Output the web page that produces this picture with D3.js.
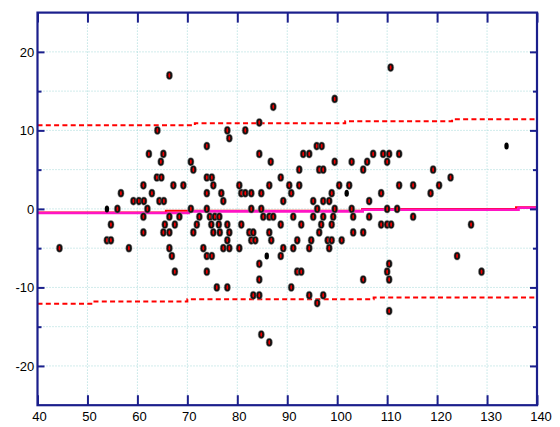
<!DOCTYPE html>
<html>
<head>
<meta charset="utf-8">
<script src="https://cdn.jsdelivr.net/npm/d3@7"></script>
<style>
  html, body { margin: 0; padding: 0; background: #fff; }
  svg { display: block; }
</style>
</head>
<body>
<svg id="chart" width="560" height="427"></svg>
<script>
// Axis ticks
const xTickValues = [40, 50, 60, 70, 80, 90, 100, 110, 120, 130, 140];
const yTickValues = [-20, -10, 0, 10, 20];
const yMinorTickValues = [-15, -5, 5, 15];
const xGridValues = [50, 60, 70, 80, 90, 100, 110, 120, 130];
const yGridValues = [-20, -15, -10, -5, 0, 5, 10, 15, 20];

// Observations: mean of the two measurements (x) and their difference (y)
const meanValues = [
  110.7, 66.4, 99.5, 87.2, 84.4,
  64.0, 78.0, 81.6, 78.4,
  73.9, 95.9, 96.9,
  62.3, 65.2, 84.4, 93.2, 94.4, 107.2, 109.2, 110.4, 112.4,
  64.7, 70.7, 86.7, 99.5, 102.9, 106.0, 110.0,
  71.2, 92.4, 96.4, 97.2, 105.2, 119.2,
  63.9, 64.8, 73.9, 74.9, 88.7, 122.7,
  61.2, 67.2, 69.2, 75.2, 80.4, 86.4, 90.4, 92.4, 100.4, 102.4, 112.4, 115.2, 120.4,
  56.7, 62.9, 73.9, 76.8, 80.8, 81.6, 82.8, 84.8, 90.8, 98.9, 108.8, 118.7,
  59.2, 60.3, 61.3, 64.4, 65.3, 77.2, 89.2, 95.2, 97.2, 98.4, 106.4,
  56.0, 62.0, 70.7, 73.9, 82.8, 84.8, 96.0, 99.5, 102.9, 110.0, 112.0,
  61.2, 66.4, 68.4, 72.4, 74.5, 75.5, 76.4, 85.2, 86.4, 87.2, 91.2, 95.2, 97.2, 99.2, 103.2, 106.4, 115.2,
  54.7, 65.5, 67.5, 71.9, 74.8, 76.3, 78.0, 80.8, 88.7, 92.8, 96.8, 98.9, 108.8, 110.0, 110.8, 126.8,
  61.2, 65.2, 66.4, 71.2, 75.2, 76.5, 78.4, 82.4, 83.2, 86.4, 96.4, 103.2, 105.2,
  53.9, 54.7, 78.0, 82.8, 83.6, 86.8, 92.0, 94.8, 98.1, 98.9, 100.9,
  44.4, 58.3, 66.4, 73.2, 77.2, 78.4, 80.4, 89.2, 91.2, 94.4, 98.4,
  66.9, 73.9, 74.9, 88.7, 124.0,
  84.4, 110.4,
  67.5, 73.9, 92.0, 92.8, 110.0, 128.9,
  84.4, 105.2, 110.4,
  75.9, 78.0, 90.8,
  83.2, 84.4, 94.4, 97.2,
  96.0, 110.4, 84.8, 86.4
];
const diffValues = [
  18, 17, 14, 13, 11,
  10, 10, 10, 9,
  8, 8, 8,
  7, 7, 7, 7, 7, 7, 7, 7, 7,
  6, 6, 6, 6, 6, 6, 6,
  5, 5, 5, 5, 5, 5,
  4, 4, 4, 4, 4, 4,
  3, 3, 3, 3, 3, 3, 3, 3, 3, 3, 3, 3, 3,
  2, 2, 2, 2, 2, 2, 2, 2, 2, 2, 2, 2,
  1, 1, 1, 1, 1, 1, 1, 1, 1, 1, 1,
  0, 0, 0, 0, 0, 0, 0, 0, 0, 0, 0,
  -1, -1, -1, -1, -1, -1, -1, -1, -1, -1, -1, -1, -1, -1, -1, -1, -1,
  -2, -2, -2, -2, -2, -2, -2, -2, -2, -2, -2, -2, -2, -2, -2, -2,
  -3, -3, -3, -3, -3, -3, -3, -3, -3, -3, -3, -3, -3,
  -4, -4, -4, -4, -4, -4, -4, -4, -4, -4, -4,
  -5, -5, -5, -5, -5, -5, -5, -5, -5, -5, -5,
  -6, -6, -6, -6, -6,
  -7, -7,
  -8, -8, -8, -8, -8, -8,
  -9, -9, -9,
  -10, -10, -10,
  -11, -11, -11, -11,
  -12, -13, -16, -17
];

// Observations drawn with the plain black marker
const plainMeanValues = [133.9, 101.9, 53.9, 85.9];
const plainDiffValues = [8, 2, 0, -6];

// Reference lines (step breakpoints along x)
const upperLimitX = [40, 71.5, 101.6, 123, 140];
const upperLimitY = [10.65, 10.9, 11.15, 11.41, 11.41];
const lowerLimitX = [40, 51, 70, 107.3, 140];
const lowerLimitY = [-12.07, -11.8, -11.52, -11.28, -11.28];
const biasLineX = [40, 65.7, 105, 135.8, 140];
const biasLineY = [-0.45, -0.25, -0.02, 0.2, 0.2];
const trendLineX = [40, 70.3, 105.1, 136.3, 140];
const trendLineY = [-0.52, -0.31, -0.1, 0.15, 0.15];

const svg = d3.select("#chart");
const x = d3.scaleLinear().domain([40, 140]).range([37.5, 537]);
const y = d3.scaleLinear().domain([-25, 25]).range([405.2, 12.6]);
const navy = "#1b1f8c";
const gridColor = "#a3d8d8";
const fontFamily = "'Liberation Sans', Arial, Helvetica, sans-serif";
const plainNumber = d => String(d);

// grid
const grid = svg.append("g");
grid.selectAll("line.gx").data(xGridValues).join("line")
  .attr("x1", d => x(d)).attr("x2", d => x(d))
  .attr("y1", y(25)).attr("y2", y(-25))
  .attr("stroke", gridColor).attr("stroke-width", 1)
  .attr("stroke-dasharray", "1,2");
grid.selectAll("line.gy").data(yGridValues).join("line")
  .attr("x1", x(40)).attr("x2", x(140))
  .attr("y1", d => y(d)).attr("y2", d => y(d))
  .attr("stroke", gridColor).attr("stroke-width", 1)
  .attr("stroke-dasharray", "1,2");

// reference lines
const zipPts = (xs, ys) => xs.map((v, i) => [v, ys[i]]);
const stepLine = d3.line().x(d => x(d[0])).y(d => y(d[1])).curve(d3.curveStepAfter);

svg.append("path").datum(zipPts(upperLimitX, upperLimitY))
  .attr("d", stepLine).attr("fill", "none")
  .attr("stroke", "#ff0000").attr("stroke-width", 2).attr("stroke-dasharray", "5,3.3");
svg.append("path").datum(zipPts(lowerLimitX, lowerLimitY))
  .attr("d", stepLine).attr("fill", "none")
  .attr("stroke", "#ff0000").attr("stroke-width", 2).attr("stroke-dasharray", "5,3.3");
svg.append("path").datum(zipPts(biasLineX, biasLineY))
  .attr("d", stepLine).attr("fill", "none")
  .attr("stroke", "#ff0000").attr("stroke-width", 2);
svg.append("path").datum(zipPts(trendLineX, trendLineY))
  .attr("d", stepLine).attr("fill", "none")
  .attr("stroke", "#ff14c4").attr("stroke-width", 2.6);

// markers
const pts = zipPts(meanValues, diffValues);
const mk = svg.append("g").selectAll("g").data(pts).join("g")
  .attr("transform", d => `translate(${x(d[0])},${y(d[1])})`);
mk.append("ellipse").attr("rx", 3.1).attr("ry", 4.1)
  .attr("fill", "#111").attr("stroke", "#888").attr("stroke-opacity", 0.6).attr("stroke-width", 0.8);
mk.append("ellipse").attr("rx", 0.95).attr("ry", 2.3).attr("fill", "#ee0000");

svg.append("g").selectAll("ellipse").data(zipPts(plainMeanValues, plainDiffValues)).join("ellipse")
  .attr("cx", d => x(d[0])).attr("cy", d => y(d[1]))
  .attr("rx", 2.2).attr("ry", 3.5).attr("fill", "#000");

// axes
function styleAxis(g) {
  g.select(".domain").remove();
  g.selectAll(".tick line").attr("stroke", navy).attr("stroke-width", 2);
  g.selectAll(".tick text").attr("fill", "#000")
    .attr("font-family", fontFamily).attr("font-size", 13);
}

svg.append("g").attr("transform", `translate(0,${y(-25)})`)
  .call(d3.axisBottom(x).tickValues(xTickValues).tickSize(-10).tickPadding(7).tickFormat(plainNumber))
  .call(styleAxis)
  .call(g => g.selectAll(".tick text").attr("dx", d => String(d).length > 2 ? 3.5 : 1.5));

svg.append("g").attr("transform", `translate(0,${y(25)})`)
  .call(d3.axisTop(x).tickValues(xTickValues).tickSize(-10).tickFormat(""))
  .call(styleAxis);

svg.append("g").attr("transform", `translate(${x(40)},0)`)
  .call(d3.axisLeft(y).tickValues(yTickValues).tickSize(-7).tickPadding(3.2).tickFormat(plainNumber))
  .call(styleAxis);
svg.append("g").attr("transform", `translate(${x(40)},0)`)
  .call(d3.axisLeft(y).tickValues(yMinorTickValues).tickSize(-4).tickFormat(""))
  .call(styleAxis);

svg.append("g").attr("transform", `translate(${x(140)},0)`)
  .call(d3.axisRight(y).tickValues(yTickValues).tickSize(-7).tickFormat(""))
  .call(styleAxis);
svg.append("g").attr("transform", `translate(${x(140)},0)`)
  .call(d3.axisRight(y).tickValues(yMinorTickValues).tickSize(-4).tickFormat(""))
  .call(styleAxis);

// frame
svg.append("rect")
  .attr("x", x(40)).attr("y", y(25))
  .attr("width", x(140) - x(40)).attr("height", y(-25) - y(25))
  .attr("fill", "none").attr("stroke", navy).attr("stroke-width", 2.2);
</script>
</body>
</html>
